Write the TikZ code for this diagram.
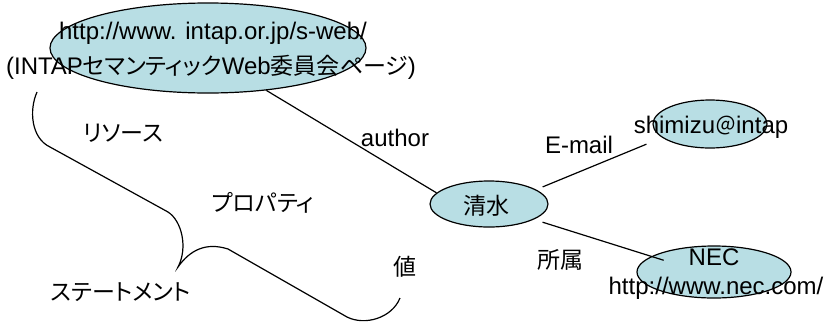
\documentclass[tikz,border=0pt]{standalone}
\usepackage{fontspec}
\setmainfont{Liberation Sans}
\newfontfamily\jpfont[RawFeature=+palt]{Noto Sans CJK JP}
\newfontfamily\jpfw{Noto Sans CJK JP}
\usetikzlibrary{shapes.geometric}
\newcommand\jptxt[1]{{\jpfont\fontsize{23}{28}\selectfont #1}}
\definecolor{ellfill}{RGB}{184,222,228}
\tikzset{
  ell/.style={ellipse, draw=black, line width=1.2pt, fill=ellfill, inner sep=0pt},
  lat/.style={font=\fontsize{24}{28}\selectfont, inner sep=0pt, anchor=base},
  jp/.style={font=\jpfont\fontsize{23}{28}\selectfont, inner sep=0pt},
  conn/.style={line width=1.2pt, draw=black},
}
\begin{document}
\begin{tikzpicture}[x=1pt,y=-1pt]
\useasboundingbox (0,0) rectangle (827,322);
% ellipses
\node[ell, minimum width=316pt, minimum height=90pt] (web) at (208,48) {};
\node[ell, minimum width=118pt, minimum height=46pt] (sei) at (489,204) {};
\node[ell, minimum width=114pt, minimum height=48pt] (shim) at (710,124) {};
\node[ell, minimum width=154pt, minimum height=52pt] (nec) at (714,272) {};
% texts in/around ellipses
\node[lat] (t1) at (213,39) {http://www. intap.or.jp/s-web/};
\node[lat] (t2) at (211,74) {(INTAP\jptxt{セマンティック}Web\jptxt{委員会ページ})};
\node[jp] (seit) at (486,206) {清水};
\node[lat] (shimt) at (711,133) {shimizu{\jpfw\fontsize{21}{28}\selectfont ＠}intap};
\node[lat] (nect) at (714,265) {NEC};
\node[lat] (necu) at (716,294) {http://www.nec.com/};
% connectors
\draw[conn] (web.-36) -- (sei.168);
\draw[conn, shorten <=7pt, shorten >=17pt] (sei.17) -- (shim.196);
\draw[conn, shorten <=9pt, shorten >=-13pt] (sei.-19) -- (nec.166);
% connector labels
\node[lat] (author) at (395,146) {author};
\node[lat] (email) at (579,153) {E-mail};
\node[jp] (shozoku) at (560,260) {所属};
% brace
\draw[conn] (37,92) .. controls (29,110) and (31,138) .. (50,147)
  -- (168,212) .. controls (182,221) and (188,248) .. (178,267)
  .. controls (190,250) and (206,242) .. (228,249)
  -- (347,317) .. controls (365,326) and (392,318) .. (400,298);
% brace labels
\node[jp] (res) at (123,133) {リソース};
\node[jp] (prop) at (263,203) {プロパティ};
\node[jp] (val) at (405,267) {値};
\node[jp] (stmt) at (121,292) {ステートメント};
\end{tikzpicture}
\end{document}
